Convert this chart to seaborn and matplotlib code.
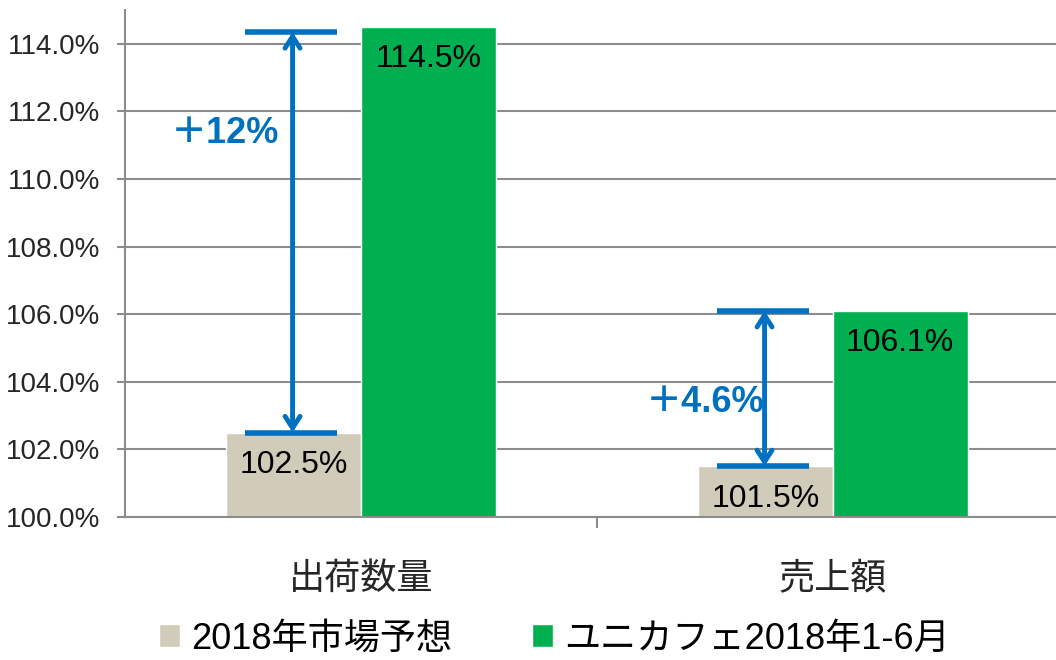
import matplotlib

matplotlib.use("Agg")

import matplotlib.pyplot as plt
import numpy as np
import pandas as pd
import seaborn as sns
from matplotlib.ticker import FuncFormatter, FixedLocator
from matplotlib.patches import Patch

categories = ["出荷数量", "売上額"]
series = ["2018年市場予想", "ユニカフェ2018年1-6月"]
market = [102.5, 101.5]
unicafe = [114.5, 106.1]
diff_labels = ["＋12%", "＋4.6%"]
yticks = [100, 102, 104, 106, 108, 110, 112, 114]

GRAY = "#D1CCBA"
GREEN = "#00B050"
BLUE = "#0070C0"
GRID = "#8C8C8C"


def set_theme() -> None:
    sns.set_theme(style="white")
    plt.rcParams.update(
        {
            "figure.facecolor": "white",
            "axes.facecolor": "white",
            "font.family": ["Liberation Sans", "Noto Sans CJK JP", "DejaVu Sans"],
            "text.color": "black",
        }
    )


def main() -> None:
    set_theme()
    df = pd.DataFrame(
        {
            "category": categories * 2,
            "series": [series[0]] * 2 + [series[1]] * 2,
            "value": market + unicafe,
        }
    )

    fig = plt.figure(figsize=(10.56, 6.6), dpi=100)
    ax = fig.add_axes([125 / 1056, 143 / 660, 931 / 1056, 507 / 660])
    sns.barplot(
        data=df, x="category", y="value", hue="series",
        palette=[GRAY, GREEN], width=0.57, saturation=1, ax=ax, legend=False,
    )
    ax.set_ylim(100, 115)
    ax.set_xlim(-0.5, 1.4725)
    ax.set_xlabel("")
    ax.set_ylabel("")

    # grid + axes styling
    ax.yaxis.set_major_locator(FixedLocator(yticks))
    ax.yaxis.set_major_formatter(FuncFormatter(lambda v, _p: f"{v:.1f}%"))
    ax.grid(axis="y", color=GRID, linewidth=1.5)
    ax.set_axisbelow(True)
    for side in ["top", "right"]:
        ax.spines[side].set_visible(False)
    for side in ["left", "bottom"]:
        ax.spines[side].set_color(GRID)
        ax.spines[side].set_linewidth(1.5)
    ax.tick_params(axis="y", which="major", left=True, length=6, width=1.5,
                   color=GRID, labelsize=20, pad=12)
    ax.tick_params(axis="x", which="major", bottom=False, labelsize=26, pad=26)
    ax.xaxis.set_minor_locator(FixedLocator([0.5]))
    ax.tick_params(axis="x", which="minor", bottom=True, length=8, width=1.5, color=GRID)

    # value labels inside bars
    for cont in ax.containers:
        ax.bar_label(cont, labels=[f"{v:.1f}%" for v in cont.datavalues],
                     padding=-34, fontsize=23)

    # difference arrows
    xs = np.arange(len(categories))
    for i in range(len(categories)):
        ax_x = xs[i] - 0.145
        lo, hi = market[i], unicafe[i] - (0.15 if i == 0 else 0.0)
        ax.hlines([lo, hi], xs[i] - 0.245, xs[i] - 0.05, color=BLUE, linewidth=4, zorder=5)
        ax.annotate("", xy=(ax_x, hi), xytext=(ax_x, lo),
                    arrowprops=dict(arrowstyle="<->,head_length=0.7,head_width=0.45",
                                    color=BLUE, lw=3.5, shrinkA=0, shrinkB=0),
                    zorder=6)
    ax.text(xs[0] - 0.288, 111.35, diff_labels[0], color=BLUE, fontsize=26,
            fontweight="bold", ha="center", va="center")
    ax.text(xs[1] - 0.271, 103.4, diff_labels[1], color=BLUE, fontsize=26,
            fontweight="bold", ha="center", va="center")

    handles = [Patch(facecolor=GRAY), Patch(facecolor=GREEN)]
    fig.legend(handles, series, loc="center", bbox_to_anchor=(0.525, 0.032),
               ncol=2, frameon=False, fontsize=26, handlelength=0.6, handleheight=0.6,
               handletextpad=0.3, columnspacing=2.2)

    fig.savefig("out.png", dpi=100, facecolor="white")
    plt.close(fig)


if __name__ == "__main__":
    main()
